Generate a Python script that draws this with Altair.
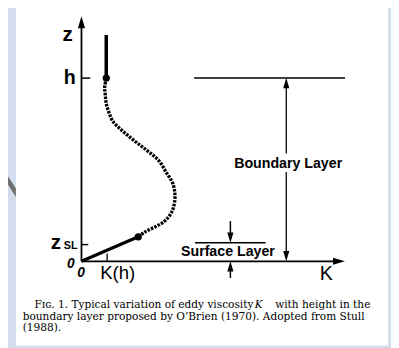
import altair as alt
import pandas as pd

# ---------------- values ----------------
# K in arbitrary units, z in units of the boundary-layer height h
profile_K = [0.1353, 0.1267, 0.1299, 0.1353, 0.1481, 0.1711, 0.2246, 0.2888, 0.3583, 0.4209,
             0.4652, 0.4973, 0.5096, 0.5080, 0.4920, 0.4545, 0.4011, 0.3476, 0.3102]
profile_z = [1.0, 0.9519, 0.9091, 0.8610, 0.8182, 0.7647, 0.7112, 0.6578, 0.6043, 0.5508,
             0.4813, 0.4278, 0.3743, 0.3209, 0.2674, 0.2193, 0.1872, 0.1604, 0.1337]
K_h = 0.1353          # K at z = h
z_top = 1.235         # top of the constant-K part above h
K_sl, z_sl = 0.3102, 0.1337   # end of the linear surface-layer part
z_sl_tick = 0.091
z_surface = 0.1016
caption_lines = [
    "Fɪɢ. 1. Typical variation of eddy viscosity",
    "with height in the",
    "boundary layer proposed by O’Brien (1970). Adopted from Stull",
    "(1988).",
]

# ---------------- scales ----------------
W, H = 391, 340
xs = alt.Scale(domain=[-0.4011, 1.6898], nice=False, zero=False)
ys = alt.Scale(domain=[-0.4545, 1.3636], nice=False, zero=False)
X = lambda f: alt.X(f, type="quantitative", scale=xs, axis=None)
Y = lambda f: alt.Y(f, type="quantitative", scale=ys, axis=None)

layers = []

def txt(text, K, z, size, align="center", baseline="alphabetic", font="Liberation Sans",
        style="normal", weight="normal", color="black"):
    d = pd.DataFrame({"K": [K], "z": [z], "t": [text]})
    return alt.Chart(d).mark_text(align=align, baseline=baseline, font=font, fontSize=size,
                                  fontStyle=style, fontWeight=weight, color=color).encode(
        x=X("K"), y=Y("z"), text="t:N")

# background slide letter (mostly hidden behind the page)
layers.append(txt("N", -0.465, 0.246, 58, align="left", color="#707070", font="Open Sans"))

# white page
panel = pd.DataFrame({"K": [-0.358], "K2": [1.674], "z": [1.385], "z2": [-0.46]})
layers.append(alt.Chart(panel).mark_rect(color="white").encode(
    x=X("K"), x2="K2", y=Y("z"), y2="z2"))

# straight segments
segs = pd.DataFrame([
    (0, 0, 0, 1.30, 1.8),                 # z axis
    (0, 0, 1.41, 0, 1.8),                 # K axis
    (0, 1.0, 0.048, 1.0, 1.5),            # h tick
    (0, z_sl_tick, 0.037, z_sl_tick, 1.5),  # z_SL tick
    (0.14, 0, 0.14, 0.043, 1.3),          # K(h) tick
    (K_h, 1.0, K_h, z_top, 3.6),          # constant K above h
    (0, 0, K_sl, z_sl, 3.2),              # linear surface layer part
    (0.615, 1.0, 1.439, 1.0, 1.5),        # BL top line
    (1.118, 0.95, 1.118, 0.588, 1.3),     # BL arrow upper
    (1.118, 0.487, 1.118, 0.05, 1.3),     # BL arrow lower
    (0.62, z_surface, 1.005, z_surface, 1.5),  # SL line
    (0.813, 0.219, 0.813, 0.13, 1.5),     # SL down arrow shaft
    (0.813, -0.091, 0.813, -0.03, 1.5),   # SL up arrow shaft
], columns=["K", "z", "K2", "z2", "w"])
layers.append(alt.Chart(segs).mark_rule(color="black").encode(
    x=X("K"), y=Y("z"), x2="K2", y2="z2", strokeWidth=alt.StrokeWidth("w:Q", scale=None)))

# dotted profile between surface layer and h
prof = pd.DataFrame({"K": profile_K, "z": profile_z, "i": list(range(len(profile_K)))})
layers.append(alt.Chart(prof).mark_line(interpolate="catmull-rom", strokeDash=[2.6, 1.2],
                                         strokeWidth=3.4, color="black").encode(
    x=X("K"), y=Y("z"), order="i:Q"))

# dots
dots = pd.DataFrame({"K": [K_h, K_sl], "z": [1.0, z_sl]})
layers.append(alt.Chart(dots).mark_circle(size=55, color="black", opacity=1).encode(
    x=X("K"), y=Y("z")))

# arrowheads (tip anchored)
heads = pd.DataFrame([
    (0, 1.337, 0, 150),
    (1.4385, 0, 90, 150),
    (1.118, 1.0, 0, 110),
    (1.118, 0.0, 180, 110),
    (0.813, z_surface, 180, 110),
    (0.813, 0.0, 0, 110),
], columns=["K", "z", "a", "s"])
layers.append(alt.Chart(heads).mark_point(shape="M0,0L0.6,2L-0.6,2Z", filled=True,
                                           color="black", opacity=1).encode(
    x=X("K"), y=Y("z"), angle=alt.Angle("a:Q", scale=None), size=alt.Size("s:Q", scale=None)))

# diagram labels
layers += [
    txt("z", -0.0749, 1.2032, 21, weight="bold"),
    txt("h", -0.0642, 0.9679, 20, weight="bold"),
    txt("z", -0.139, 0.0695, 21, weight="bold"),
    txt("SL", -0.0588, 0.0695, 11, weight="bold"),
    txt("0", -0.0588, -0.0348, 14, style="italic", weight="bold"),
    txt("0", -0.0027, -0.0882, 14, style="italic", weight="bold"),
    txt("K(h)", 0.1979, -0.0963, 19),
    txt("K", 1.3369, -0.1016, 20),
    txt("Boundary Layer", 1.1283, 0.508, 14.5, weight="bold"),
    txt("Surface Layer", 0.7995, 0.0267, 14.5, weight="bold"),
]

# caption
cf, cs = "DejaVu Serif", 10.8
layers += [
    txt(caption_lines[0], -0.2567, -0.2567, cs, align="left", font=cf),
    txt("K", 0.968, -0.2567, cs, style="italic", font=cf),
    txt(caption_lines[1], 1.5775, -0.2567, cs, align="right", font=cf),
    txt(caption_lines[2], -0.3209, -0.3182, cs, align="left", font=cf),
    txt(caption_lines[3], -0.3209, -0.3797, cs, align="left", font=cf),
]

chart = alt.layer(*layers).properties(
    width=W, height=H, padding=0, autosize=alt.AutoSizeParams(type="none"),
    background="#D4DDED",
).configure_view(strokeWidth=0)

chart.save("out.html", embed_options={"renderer": "svg", "actions": False})
